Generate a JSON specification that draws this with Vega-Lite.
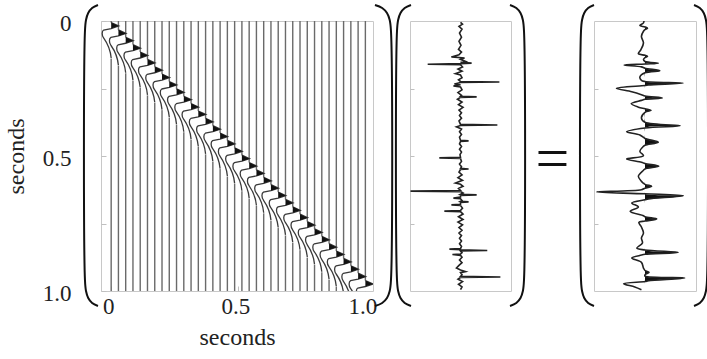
{
  "$schema": "https://vega.github.io/schema/vega-lite/v6.json",
  "background": "white",
  "padding": {"left": 3, "top": 0, "right": 0, "bottom": 0},
  "autosize": {"type": "pad"},
  "bounds": "flush",
  "spacing": 37,
  "config": {
    "view": {"stroke": "#c8c8c8", "strokeWidth": 1},
    "axis": {"labelFont": "Liberation Serif", "titleFont": "Liberation Serif", "labelColor": "#222", "titleColor": "#222", "titleFontWeight": "normal", "grid": false, "domain": false, "tickColor": "#c0c0c0", "labelOverlap": false, "labelFlush": false}
  },
  "datasets": {
    "traces": [
      {"x": 0, "t": 0.026}, {"x": 0.02857, "t": 0.0533}, {"x": 0.05714, "t": 0.0806}, {"x": 0.08571, "t": 0.1079},
      {"x": 0.11429, "t": 0.1352}, {"x": 0.14286, "t": 0.1625}, {"x": 0.17143, "t": 0.1898}, {"x": 0.2, "t": 0.2171},
      {"x": 0.22857, "t": 0.2444}, {"x": 0.25714, "t": 0.2717}, {"x": 0.28571, "t": 0.299}, {"x": 0.31429, "t": 0.3263},
      {"x": 0.34286, "t": 0.3536}, {"x": 0.37143, "t": 0.3809}, {"x": 0.4, "t": 0.4082}, {"x": 0.42857, "t": 0.4355},
      {"x": 0.45714, "t": 0.4628}, {"x": 0.48571, "t": 0.4901}, {"x": 0.51429, "t": 0.5174}, {"x": 0.54286, "t": 0.5447},
      {"x": 0.57143, "t": 0.572}, {"x": 0.6, "t": 0.5993}, {"x": 0.62857, "t": 0.6266}, {"x": 0.65714, "t": 0.6539},
      {"x": 0.68571, "t": 0.6812}, {"x": 0.71429, "t": 0.7085}, {"x": 0.74286, "t": 0.7358}, {"x": 0.77143, "t": 0.7631},
      {"x": 0.8, "t": 0.7904}, {"x": 0.82857, "t": 0.8177}, {"x": 0.85714, "t": 0.845}, {"x": 0.88571, "t": 0.8723},
      {"x": 0.91429, "t": 0.8996}, {"x": 0.94286, "t": 0.9269}, {"x": 0.97143, "t": 0.9542}, {"x": 1.0, "t": 0.9815}
    ],
    "bracketL": [
      {"s": "a", "k": 0, "x": -0.0519, "t": -0.0593}, {"s": "a", "k": 1, "x": -0.0749, "t": -0.0481},
      {"s": "a", "k": 2, "x": -0.0903, "t": -0.0296}, {"s": "a", "k": 3, "x": -0.099, "t": -0.0037},
      {"s": "a", "k": 4, "x": -0.1031, "t": 0.037}, {"s": "a", "k": 5, "x": -0.1031, "t": 0.9593},
      {"s": "a", "k": 6, "x": -0.099, "t": 1.0}, {"s": "a", "k": 7, "x": -0.0903, "t": 1.0259},
      {"s": "a", "k": 8, "x": -0.0749, "t": 1.0444}, {"s": "a", "k": 9, "x": -0.0519, "t": 1.0556},
      {"s": "b", "k": 0, "x": 1.0378, "t": -0.0593}, {"s": "b", "k": 1, "x": 1.0661, "t": -0.0481},
      {"s": "b", "k": 2, "x": 1.085, "t": -0.0296}, {"s": "b", "k": 3, "x": 1.0957, "t": -0.0037},
      {"s": "b", "k": 4, "x": 1.1007, "t": 0.037}, {"s": "b", "k": 5, "x": 1.1007, "t": 0.9593},
      {"s": "b", "k": 6, "x": 1.0957, "t": 1.0}, {"s": "b", "k": 7, "x": 1.085, "t": 1.0259},
      {"s": "b", "k": 8, "x": 1.0661, "t": 1.0444}, {"s": "b", "k": 9, "x": 1.0378, "t": 1.0556}
    ],
    "bracketM": [
      {"s": "a", "k": 0, "a": -0.9802, "t": -0.0593}, {"s": "a", "k": 1, "a": -1.105, "t": -0.0481},
      {"s": "a", "k": 2, "a": -1.1881, "t": -0.0296}, {"s": "a", "k": 3, "a": -1.2352, "t": -0.0037},
      {"s": "a", "k": 4, "a": -1.2574, "t": 0.037}, {"s": "a", "k": 5, "a": -1.2574, "t": 0.9593},
      {"s": "a", "k": 6, "a": -1.2352, "t": 1.0}, {"s": "a", "k": 7, "a": -1.1881, "t": 1.0259},
      {"s": "a", "k": 8, "a": -1.105, "t": 1.0444}, {"s": "a", "k": 9, "a": -0.9802, "t": 1.0556},
      {"s": "b", "k": 0, "a": 0.9802, "t": -0.0593}, {"s": "b", "k": 1, "a": 1.105, "t": -0.0481},
      {"s": "b", "k": 2, "a": 1.1881, "t": -0.0296}, {"s": "b", "k": 3, "a": 1.2352, "t": -0.0037},
      {"s": "b", "k": 4, "a": 1.2574, "t": 0.037}, {"s": "b", "k": 5, "a": 1.2574, "t": 0.9593},
      {"s": "b", "k": 6, "a": 1.2352, "t": 1.0}, {"s": "b", "k": 7, "a": 1.1881, "t": 1.0259},
      {"s": "b", "k": 8, "a": 1.105, "t": 1.0444}, {"s": "b", "k": 9, "a": 0.9802, "t": 1.0556}
    ],
    "bracketR": [
      {"s": "a", "k": 0, "a": -1.0, "t": -0.0593}, {"s": "a", "k": 1, "a": -1.1147, "t": -0.0481},
      {"s": "a", "k": 2, "a": -1.1912, "t": -0.0296}, {"s": "a", "k": 3, "a": -1.2345, "t": -0.0037},
      {"s": "a", "k": 4, "a": -1.2549, "t": 0.037}, {"s": "a", "k": 5, "a": -1.2549, "t": 0.9593},
      {"s": "a", "k": 6, "a": -1.2345, "t": 1.0}, {"s": "a", "k": 7, "a": -1.1912, "t": 1.0259},
      {"s": "a", "k": 8, "a": -1.1147, "t": 1.0444}, {"s": "a", "k": 9, "a": -1.0, "t": 1.0556},
      {"s": "b", "k": 0, "a": 0.9608, "t": -0.0593}, {"s": "b", "k": 1, "a": 1.0755, "t": -0.0481},
      {"s": "b", "k": 2, "a": 1.152, "t": -0.0296}, {"s": "b", "k": 3, "a": 1.1953, "t": -0.0037},
      {"s": "b", "k": 4, "a": 1.2157, "t": 0.037}, {"s": "b", "k": 5, "a": 1.2157, "t": 0.9593},
      {"s": "b", "k": 6, "a": 1.1953, "t": 1.0}, {"s": "b", "k": 7, "a": 1.152, "t": 1.0259},
      {"s": "b", "k": 8, "a": 1.0755, "t": 1.0444}, {"s": "b", "k": 9, "a": 0.9608, "t": 1.0556}
    ],
    "refl": [
      {"t": 0.005, "a": 0}, {"t": 0.012, "a": 0.04}, {"t": 0.02, "a": -0.03}, {"t": 0.03, "a": 0.03}, {"t": 0.045, "a": -0.02},
      {"t": 0.06, "a": 0.02}, {"t": 0.075, "a": -0.03}, {"t": 0.09, "a": 0.01}, {"t": 0.105, "a": -0.04}, {"t": 0.115, "a": 0.02},
      {"t": 0.125, "a": -0.03}, {"t": 0.133, "a": -0.18}, {"t": 0.137, "a": 0.08}, {"t": 0.142, "a": 0}, {"t": 0.15, "a": 0.1},
      {"t": 0.153, "a": 0}, {"t": 0.156, "a": 0.22}, {"t": 0.158, "a": 0}, {"t": 0.16, "a": -0.65}, {"t": 0.162, "a": 0},
      {"t": 0.17, "a": 0.04}, {"t": 0.178, "a": -0.05}, {"t": 0.186, "a": 0.03}, {"t": 0.195, "a": -0.1}, {"t": 0.2, "a": 0},
      {"t": 0.21, "a": 0.03}, {"t": 0.218, "a": -0.04}, {"t": 0.224, "a": 0}, {"t": 0.226, "a": 0.77}, {"t": 0.228, "a": 0},
      {"t": 0.233, "a": -0.12}, {"t": 0.236, "a": 0}, {"t": 0.241, "a": -0.14}, {"t": 0.244, "a": 0}, {"t": 0.255, "a": 0.03},
      {"t": 0.265, "a": -0.05}, {"t": 0.275, "a": 0.02}, {"t": 0.279, "a": 0}, {"t": 0.281, "a": 0.32}, {"t": 0.283, "a": 0},
      {"t": 0.29, "a": -0.06}, {"t": 0.3, "a": 0.03}, {"t": 0.31, "a": -0.04}, {"t": 0.32, "a": 0.05}, {"t": 0.33, "a": -0.03},
      {"t": 0.34, "a": 0.02}, {"t": 0.35, "a": -0.02}, {"t": 0.36, "a": 0.02}, {"t": 0.37, "a": -0.03}, {"t": 0.383, "a": 0},
      {"t": 0.385, "a": 0.73}, {"t": 0.387, "a": 0}, {"t": 0.392, "a": -0.08}, {"t": 0.4, "a": 0.02}, {"t": 0.41, "a": -0.02},
      {"t": 0.42, "a": 0.02}, {"t": 0.43, "a": -0.02}, {"t": 0.442, "a": 0}, {"t": 0.444, "a": 0.16}, {"t": 0.446, "a": 0},
      {"t": 0.455, "a": -0.02}, {"t": 0.465, "a": 0.02}, {"t": 0.475, "a": -0.02}, {"t": 0.485, "a": 0.02}, {"t": 0.495, "a": -0.01},
      {"t": 0.505, "a": 0}, {"t": 0.507, "a": -0.42}, {"t": 0.509, "a": 0}, {"t": 0.52, "a": 0.02}, {"t": 0.53, "a": -0.02},
      {"t": 0.54, "a": 0.02}, {"t": 0.546, "a": 0}, {"t": 0.548, "a": 0.16}, {"t": 0.55, "a": 0}, {"t": 0.56, "a": -0.03},
      {"t": 0.57, "a": 0.03}, {"t": 0.58, "a": -0.05}, {"t": 0.59, "a": 0.04}, {"t": 0.6, "a": -0.1}, {"t": 0.605, "a": 0},
      {"t": 0.612, "a": 0.05}, {"t": 0.62, "a": -0.04}, {"t": 0.628, "a": 0}, {"t": 0.63, "a": -0.99}, {"t": 0.632, "a": 0},
      {"t": 0.637, "a": 0.05}, {"t": 0.642, "a": 0}, {"t": 0.644, "a": 0.32}, {"t": 0.646, "a": 0}, {"t": 0.652, "a": 0},
      {"t": 0.656, "a": -0.14}, {"t": 0.658, "a": 0}, {"t": 0.665, "a": 0.03}, {"t": 0.668, "a": 0}, {"t": 0.67, "a": 0.16},
      {"t": 0.672, "a": 0}, {"t": 0.679, "a": 0}, {"t": 0.681, "a": -0.18}, {"t": 0.683, "a": 0}, {"t": 0.693, "a": 0.04},
      {"t": 0.702, "a": 0}, {"t": 0.704, "a": -0.32}, {"t": 0.706, "a": 0}, {"t": 0.715, "a": 0.05}, {"t": 0.725, "a": -0.04},
      {"t": 0.735, "a": 0.05}, {"t": 0.745, "a": -0.05}, {"t": 0.755, "a": 0.04}, {"t": 0.765, "a": -0.03}, {"t": 0.775, "a": 0.03},
      {"t": 0.785, "a": -0.03}, {"t": 0.795, "a": 0.02}, {"t": 0.805, "a": -0.02}, {"t": 0.815, "a": 0.02}, {"t": 0.825, "a": -0.02},
      {"t": 0.835, "a": 0.02}, {"t": 0.843, "a": 0}, {"t": 0.845, "a": -0.22}, {"t": 0.847, "a": 0}, {"t": 0.85, "a": 0.53},
      {"t": 0.852, "a": 0}, {"t": 0.858, "a": 0.03}, {"t": 0.863, "a": 0}, {"t": 0.865, "a": -0.16}, {"t": 0.868, "a": 0},
      {"t": 0.875, "a": 0.03}, {"t": 0.885, "a": -0.02}, {"t": 0.895, "a": 0.03}, {"t": 0.905, "a": -0.03}, {"t": 0.915, "a": -0.08},
      {"t": 0.922, "a": 0}, {"t": 0.928, "a": 0.1}, {"t": 0.932, "a": 0}, {"t": 0.94, "a": 0.03}, {"t": 0.946, "a": 0},
      {"t": 0.948, "a": 0.79}, {"t": 0.95, "a": 0}, {"t": 0.956, "a": -0.05}, {"t": 0.965, "a": 0.04}, {"t": 0.975, "a": -0.04},
      {"t": 0.985, "a": 0.03}, {"t": 0.995, "a": 0}
    ],
    "seis": [
      {"t": 0.0, "a": -0.02, "p": 0}, {"t": 0.007, "a": -0.03, "p": 0}, {"t": 0.017, "a": -0.1, "p": 0}, {"t": 0.022, "a": 0, "p": 0},
      {"t": 0.027, "a": 0.05, "p": 0.05}, {"t": 0.032, "a": 0, "p": 0}, {"t": 0.038, "a": -0.03, "p": 0}, {"t": 0.057, "a": -0.07, "p": 0},
      {"t": 0.081, "a": -0.03, "p": 0}, {"t": 0.106, "a": -0.08, "p": 0}, {"t": 0.121, "a": -0.13, "p": 0}, {"t": 0.127, "a": 0, "p": 0},
      {"t": 0.131, "a": 0.05, "p": 0.05}, {"t": 0.136, "a": 0, "p": 0}, {"t": 0.143, "a": -0.03, "p": 0}, {"t": 0.15, "a": 0, "p": 0},
      {"t": 0.156, "a": 0.26, "p": 0.26}, {"t": 0.159, "a": 0, "p": 0}, {"t": 0.163, "a": -0.41, "p": 0}, {"t": 0.17, "a": -0.07, "p": 0},
      {"t": 0.175, "a": 0, "p": 0}, {"t": 0.184, "a": 0.29, "p": 0.29}, {"t": 0.192, "a": 0, "p": 0}, {"t": 0.207, "a": -0.1, "p": 0},
      {"t": 0.22, "a": -0.07, "p": 0}, {"t": 0.224, "a": 0, "p": 0}, {"t": 0.23, "a": 0.75, "p": 0.75}, {"t": 0.237, "a": 0.07, "p": 0.07},
      {"t": 0.239, "a": 0, "p": 0}, {"t": 0.249, "a": -0.56, "p": 0}, {"t": 0.262, "a": -0.26, "p": 0}, {"t": 0.273, "a": -0.07, "p": 0},
      {"t": 0.278, "a": 0, "p": 0}, {"t": 0.285, "a": 0.34, "p": 0.34}, {"t": 0.29, "a": 0, "p": 0}, {"t": 0.294, "a": -0.07, "p": 0},
      {"t": 0.306, "a": -0.27, "p": 0}, {"t": 0.319, "a": -0.13, "p": 0}, {"t": 0.325, "a": 0, "p": 0}, {"t": 0.331, "a": 0.12, "p": 0.12},
      {"t": 0.338, "a": 0, "p": 0}, {"t": 0.359, "a": -0.07, "p": 0}, {"t": 0.375, "a": 0, "p": 0}, {"t": 0.388, "a": 0.69, "p": 0.69},
      {"t": 0.396, "a": 0, "p": 0}, {"t": 0.41, "a": -0.36, "p": 0}, {"t": 0.422, "a": -0.1, "p": 0}, {"t": 0.435, "a": 0, "p": 0},
      {"t": 0.449, "a": 0.26, "p": 0.26}, {"t": 0.46, "a": 0, "p": 0}, {"t": 0.464, "a": -0.03, "p": 0}, {"t": 0.483, "a": -0.1, "p": 0},
      {"t": 0.499, "a": -0.03, "p": 0}, {"t": 0.511, "a": -0.36, "p": 0}, {"t": 0.523, "a": -0.07, "p": 0}, {"t": 0.528, "a": 0, "p": 0},
      {"t": 0.538, "a": 0.27, "p": 0.27}, {"t": 0.548, "a": 0, "p": 0}, {"t": 0.553, "a": -0.03, "p": 0}, {"t": 0.575, "a": -0.13, "p": 0},
      {"t": 0.594, "a": -0.07, "p": 0}, {"t": 0.605, "a": 0, "p": 0}, {"t": 0.612, "a": 0.13, "p": 0.13}, {"t": 0.619, "a": 0, "p": 0},
      {"t": 0.625, "a": -0.07, "p": 0}, {"t": 0.633, "a": -0.95, "p": 0}, {"t": 0.64, "a": 0, "p": 0}, {"t": 0.647, "a": 0.75, "p": 0.75},
      {"t": 0.659, "a": 0.07, "p": 0.07}, {"t": 0.662, "a": 0, "p": 0}, {"t": 0.674, "a": -0.26, "p": 0}, {"t": 0.689, "a": -0.13, "p": 0},
      {"t": 0.705, "a": -0.29, "p": 0}, {"t": 0.721, "a": -0.03, "p": 0}, {"t": 0.725, "a": 0, "p": 0}, {"t": 0.733, "a": 0.23, "p": 0.23},
      {"t": 0.741, "a": 0, "p": 0}, {"t": 0.746, "a": -0.12, "p": 0}, {"t": 0.763, "a": -0.07, "p": 0}, {"t": 0.785, "a": -0.03, "p": 0},
      {"t": 0.804, "a": -0.07, "p": 0}, {"t": 0.822, "a": -0.05, "p": 0}, {"t": 0.841, "a": -0.16, "p": 0}, {"t": 0.848, "a": 0, "p": 0},
      {"t": 0.857, "a": 0.65, "p": 0.65}, {"t": 0.864, "a": 0, "p": 0}, {"t": 0.867, "a": -0.07, "p": 0}, {"t": 0.878, "a": -0.26, "p": 0},
      {"t": 0.894, "a": -0.07, "p": 0}, {"t": 0.915, "a": -0.03, "p": 0}, {"t": 0.924, "a": 0, "p": 0}, {"t": 0.931, "a": 0.08, "p": 0.08},
      {"t": 0.94, "a": 0, "p": 0}, {"t": 0.945, "a": 0, "p": 0}, {"t": 0.952, "a": 0.78, "p": 0.78}, {"t": 0.962, "a": 0.07, "p": 0.07},
      {"t": 0.965, "a": 0, "p": 0}, {"t": 0.973, "a": -0.42, "p": 0}, {"t": 0.985, "a": -0.2, "p": 0}, {"t": 0.995, "a": -0.07, "p": 0}
    ]
  },
  "hconcat": [
    {
      "width": 272,
      "height": 270,
      "encoding": {
        "x": {"field": "x", "type": "quantitative", "scale": {"domain": [-0.04, 1.03]},
          "axis": {"values": [0, 0.5, 1], "labelExpr": "datum.value == 0 ? '0' : format(datum.value, '.1f')", "title": "seconds", "tickSize": -5, "labelPadding": 9, "labelOffset": -3, "labelFontSize": 23, "titleFontSize": 24, "titlePadding": 7}},
        "y": {"field": "t", "type": "quantitative", "scale": {"domain": [0, 1], "reverse": true},
          "axis": {"values": [0, 0.25, 0.5, 0.75, 1], "labelExpr": "datum.value == 0 ? '0' : (datum.value == 0.5 ? '0.5' : (datum.value == 1 ? '1.0' : ''))", "title": "seconds", "tickSize": -5, "labelPadding": 35, "labelOffset": 2, "labelFontSize": 23, "titleFontSize": 24, "titlePadding": 14}}
      },
      "layer": [
        {"data": {"name": "traces"}, "mark": {"type": "rule", "color": "#6a6a6a", "strokeWidth": 1.4},
          "encoding": {"y": {"datum": 0}, "y2": {"datum": 1}}},
        {"data": {"name": "traces"}, "mark": {"type": "point", "shape": "M-0.2,-0.55L0.2,-0.55L0.2,3.05L-0.2,3.05Z", "size": 400, "filled": true, "color": "white", "opacity": 1, "strokeWidth": 0, "clip": true}},
        {"data": {"name": "traces"}, "mark": {"type": "point", "shape": "M0,-0.55L0.75,-0.2L0,0.05L-0.75,0.2C-0.95,0.3 -0.95,0.75 -0.75,1.0C-0.5,1.35 -0.1,1.9 0,3.0", "size": 400, "filled": false, "color": "#3a3a3a", "opacity": 1, "strokeWidth": 1.3, "clip": true}},
        {"data": {"name": "traces"}, "mark": {"type": "point", "shape": "M0,-0.55L0.75,-0.2L0,0.05Z", "size": 400, "filled": true, "color": "#111", "opacity": 1, "strokeWidth": 0, "clip": true}},
        {"data": {"name": "bracketL"}, "mark": {"type": "line", "color": "#111", "strokeWidth": 2, "interpolate": "catmull-rom"},
          "encoding": {"detail": {"field": "s"}, "order": {"field": "k", "type": "quantitative"}}}
      ]
    },
    {
      "width": 101,
      "height": 270,
      "encoding": {
        "x": {"field": "a", "type": "quantitative", "scale": {"domain": [-1, 1]}, "axis": null},
        "y": {"field": "t", "type": "quantitative", "scale": {"domain": [0, 1], "reverse": true},
          "axis": {"values": [0.25, 0.5, 0.75], "labels": false, "title": null, "tickSize": -4}}
      },
      "layer": [
        {"data": {"name": "refl"}, "mark": {"type": "line", "color": "#222", "strokeWidth": 1.6},
          "encoding": {"order": {"field": "t", "type": "quantitative"}}},
        {"data": {"name": "bracketM"}, "mark": {"type": "line", "color": "#111", "strokeWidth": 2, "interpolate": "catmull-rom"},
          "encoding": {"detail": {"field": "s"}, "order": {"field": "k", "type": "quantitative"}}}
      ]
    },
    {
      "width": 9,
      "height": 270,
      "view": {"stroke": null},
      "data": {"values": [{"t": 0.515, "s": "="}]},
      "mark": {"type": "text", "font": "Liberation Serif", "fontSize": 60, "baseline": "middle", "align": "center", "color": "#111"},
      "encoding": {
        "y": {"field": "t", "type": "quantitative", "scale": {"domain": [0, 1], "reverse": true}, "axis": null},
        "text": {"field": "s"}
      }
    },
    {
      "width": 102,
      "height": 270,
      "encoding": {
        "y": {"field": "t", "type": "quantitative", "scale": {"domain": [0, 1], "reverse": true},
          "axis": {"values": [0.25, 0.5, 0.75], "labels": false, "title": null, "tickSize": -4}}
      },
      "layer": [
        {"data": {"name": "seis"}, "mark": {"type": "area", "orient": "horizontal", "color": "#111", "interpolate": "catmull-rom"},
          "encoding": {"x": {"field": "p", "type": "quantitative", "scale": {"domain": [-1, 1]}, "axis": null}, "x2": {"datum": 0}}},
        {"data": {"name": "seis"}, "mark": {"type": "line", "color": "#222", "strokeWidth": 1.6, "interpolate": "catmull-rom"},
          "encoding": {"x": {"field": "a", "type": "quantitative", "scale": {"domain": [-1, 1]}, "axis": null}, "order": {"field": "t", "type": "quantitative"}}},
        {"data": {"name": "bracketR"}, "mark": {"type": "line", "color": "#111", "strokeWidth": 2, "interpolate": "catmull-rom"},
          "encoding": {"x": {"field": "a", "type": "quantitative", "scale": {"domain": [-1, 1]}, "axis": null}, "detail": {"field": "s"}, "order": {"field": "k", "type": "quantitative"}}}
      ]
    }
  ]
}
